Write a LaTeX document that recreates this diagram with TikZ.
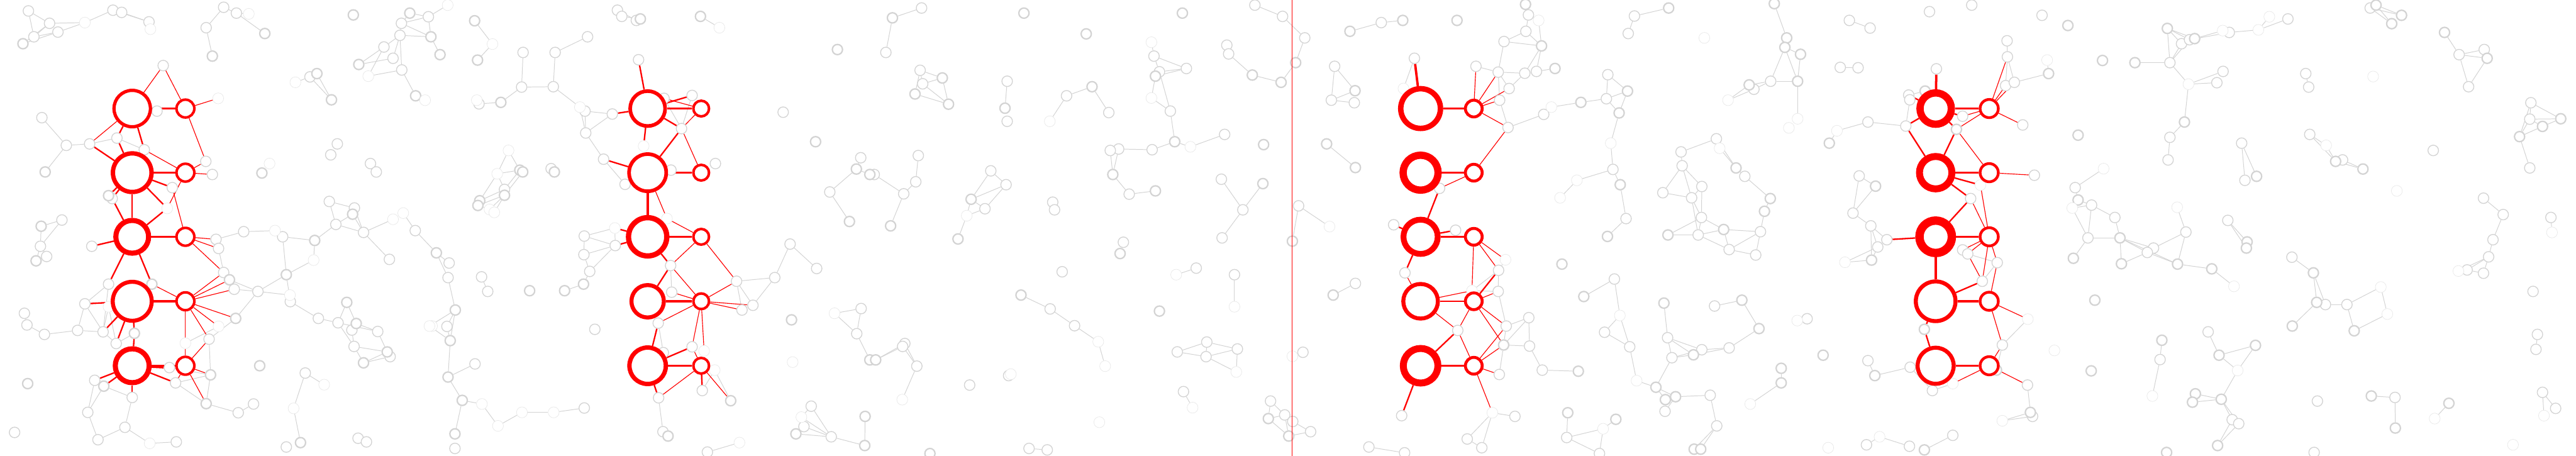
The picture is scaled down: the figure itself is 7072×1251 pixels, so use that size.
\documentclass[tikz,border=0pt]{standalone}
\pgfdeclarelayer{bg}
\pgfdeclarelayer{edges}
\pgfsetlayers{bg,edges,main}
\definecolor{gline}{HTML}{D3D3D3}
\definecolor{gfaint}{HTML}{E8E8E8}
\definecolor{rred}{HTML}{FF0000}
\tikzset{
 gN/.style={circle,draw=gline,fill=white,line width=0.23mm,minimum size=2.9mm,inner sep=0pt},
 gT/.style={circle,draw=gline,fill=white,line width=0.38mm,minimum size=2.8mm,inner sep=0pt},
 gF/.style={circle,draw=gfaint,fill=white,line width=0.12mm,minimum size=3.0mm,inner sep=0pt},
 ge/.style={draw=gline,line width=0.17mm},
 bigc/.style={circle,draw=rred,fill=white,inner sep=0pt},
 smallc/.style={circle,draw=rred,fill=white,inner sep=0pt},
 rt/.style={draw=rred,line width=0.65mm},
 rm/.style={draw=rred,line width=0.4mm},
 rs/.style={draw=rred,line width=0.2mm},
 vline/.style={draw=rred,line width=0.1mm}
}
\begin{document}
\begin{tikzpicture}[x=0.1mm,y=-0.1mm]
\useasboundingbox (0,0) rectangle (7072,1251);
\begin{pgfonlayer}{bg}\fill[white] (0,0) rectangle (7072,1251);\end{pgfonlayer}
% ---------- gray nodes: normal
\foreach \x/\y in {78/30,136/64,93/101,159/88,310/28,334/34,409/60,566/76,614/20,649/36,1102/64,1176/46,1098/97,1054/129,1103/192,851/211,448/180,431/305,115/323,182/399,246/395,321/379,396/411,565/443,583/479,473/515,308/545,170/604,111/676,128/704,252/676,593/657,600/682,669/636,776/650,614/748,643/794,708/800,797/828,874/874,574/931,298/780,233/834,67/860,74/892,122/918,213/907,283/911,319/943,465/1009,482/1051,654/1133,696/1109,260/1044,363/1091,241/1132,343/1173,269/1207,484/1213,40/1187,904/553,973/571,922/616,998/638,1140/633,1069/712,928/886,966/906,1037/910,972/951,1071/979,838/1024,786/1227,983/1203,1006/1213,926/395,908/425,1017/449,1033/472,1079/160,
1436/144,1432/239,1315/285,1385/520,1233/722,1230/762,1227/896,1304/999,1249/1231,1322/760,1339/800,
1753/164,1823/270,1900/262,1871/353,1681/313,1606/305,1608/365,1519/238,1524/144,1613/101,1657/437,1716/506,1842/467,1964/449,1513/463,1604/648,1689/674,1603/699,1619/745,1841/729,1844/802,2022/772,2067/838,2037/851,2127/762,2169/670,2242/737,1807/887,1633/904,1900/952,1821/968,1928/1072,1808/1092,1820/1185,1604/1120,1695/28,1707/45,1747/56,2150/308,2363/433,2278/527,2364/847,2352/916,2227/1115,2207/1171,2282/1199,1942/1241,
2530/22,2432/144,2526/193,2533/230,2765/223,2765/333,2928/263,3044/309,3168/154,3257/188,3183/197,3213/305,3163/411,3071/409,3048/413,3100/533,3362/369,3445/14,3521/45,3368/124,3373/148,3353/492,3412/576,3355/653,3284/736,3389/754,2521/427,2514/499,2481/532,2720/469,2762/507,2704/573,2890/555,2895/576,2916/746,2883/848,2950/894,3313/939,3232/966,3311/979,3397/958,3249/1075,3488/1101,3527/1139,2484/943,2478/951,2517/1005,2662/1057,2769/1031,2825/1231,2875/1235,3084/665,2400/479,
3883/160,4052/182,4129/114,4186/201,4143/243,4117/275,4140/350,4218/196,4189/86,4196/41,4238/314,3952/517,3826/617,3996/632,4114/742,4113/800,3857/749,4002/907,4135/895,4197/872,4199/950,4116/1028,4234/1016,3848/1141,4159/1143,4028/1205,4068/1229,3758/1227,3856/1243,3792/62,3582/104,3664/182,3655/275,3718/282,3565/565,3721/778,4301/1201,3577/967,3549/1157,3598/1185,4113/198,
4487/44,4470/92,4414/205,4410/271,4428/465,4464/600,4615/417,4618/455,4565/529,4644/543,4672/512,4671/597,4662/645,4747/685,4820/700,4833/636,4712/381,4790/484,4861/223,4815/245,4432/766,4405/912,4474/952,4578/927,4590/982,4747/955,4707/840,4571/1129,4695/1085,4713/1169,4391/1245,4672/960,
5316/189,5240/261,5243/274,5232/346,5388/319,5553/343,5511/156,5506/235,5530/226,5585/481,5410/545,5388/686,5402/697,5483/721,5442/772,5180/658,5155/678,5136/620,5087/585,5104/483,5128/335,5052/185,5101/186,5077/56,5134/77,5297/32,5413/14,5606/42,5510/112,5497/947,5305/1072,5244/1008,5128/990,5566/1057,5580/1143,5124/1221,5242/1225,5361/1195,5697/515,5742/563,5732/653,4961/875,
5957/172,5989/120,6011/109,6120/89,6281/52,6103/196,6086/227,5957/377,5952/439,6154/393,6163/495,6330/202,6338/239,6507/22,6341/369,6431/439,6680/413,6751/150,6820/136,6777/238,6948/282,6945/327,6945/461,6001/637,5806/597,5912/681,5895/693,6116/605,6292/706,6384/836,6443/836,6818/544,6872/589,6844/658,6832/705,6773/741,6818/750,7003/597,6954/800,6966/918,6962/959,5930/987,6062/911,6575/1091,6362/1101,6353/1242,6980/1077,7016/1121,6128/1152,6146/1163}
  \node[gN] (g\x y\y) at (\x,\y) {};
% ---------- gray nodes: thick
\foreach \x/\y in {63/120,727/92,583/154,970/41,1125/36,1183/101,985/177,1141/263,870/202,910/274,124/472,298/537,113/621,99/716,864/660,786/754,630/768,647/874,417/780,369/915,578/1029,566/1108,713/1004,285/1060,76/1053,968/588,952/830,978/888,998/996,1063/966,825/1215,719/475,1208/150,
1303/57,1311/165,1375/281,1427/467,1435/472,1385/536,1317/551,1312/564,1198/694,1250/851,1236/935,1230/1035,1269/1099,1249/1191,1454/798,
1522/472,1602/780,1550/798,1758/52,1923/45,2299/136,2239/389,2351/464,2388/479,2332/608,2173/878,2006/1100,1834/1197,2185/1191,2374/1223,2375/1143,2388/988,
2450/49,2512/258,2604/286,2587/214,2759/297,2811/36,2982/93,2998/238,3246/36,3172/209,3225/389,3055/479,3172/524,3438/206,3517/226,3469/397,3467/504,2445/620,2666/547,2630/656,3075/696,3183/854,2803/810,3482/1149,3538/1197,2404/988,2553/1245,
3557/172,4232/126,4269/188,4188/12,4340/281,3548/662,3642/395,3721/460,3660/810,4128/947,4333/1019,4304/1133,3706/86,3851/56,4000/56,3720/249,4348/814,4288/725,
4581/22,4468/250,4445/310,4448/507,4413/649,4579/645,4732/630,4766/461,4844/580,4860/545,4905/104,4900/130,4943/149,4935/223,4802/233,4568/832,4649/974,4782/824,4829/902,4546/1063,4572/1097,4600/1089,4651/1233,4669/1233,4436/1151,4890/1011,4890/1051,4871/10,
5285/250,5371/355,5149/511,5138/714,5022/393,5624/202,5677/70,5772/166,5705/371,5283/904,5481/1016,5147/1031,5005/975,5574/1132,5741/1018,5751/824,5692/709,5705/549,5283/1235,
5950/78,6025/106,5861/172,5997/335,6195/484,6523/14,6593/42,6566/65,6412/443,6487/464,6711/89,6828/160,7030/326,6980/347,6917/375,5820/653,5824/724,5978/725,6072/738,6169/664,6167/681,6351/749,6360/830,6463/908,6293/895,5935/934,6092/975,6192/948,6027/1081,6019/1104,6098/1096,6088/1223,5948/1242,6510/1087,6576/1175,6723/1107}
  \node[gT] (g\x y\y) at (\x,\y) {};
% ---------- gray nodes: faint
\foreach \x/\y in {413/80,233/62,683/38,1011/209,1167/275,811/226,599/270,459/572,755/633,861/714,796/810,600/896,509/942,298/842,411/1217,1079/602,1107/585,1186/895,890/1056,806/1121,740/449,1229/14,
1352/121,1309/275,1396/413,1365/477,1344/575,1357/583,1179/895,1323/1109,1367/1169,1433/1132,
1592/294,1767/401,1831/600,1688/626,1975/76,1933/963,1962/1016,1520/1132,2176/994,2291/860,2200/1145,2030/1215,
2882/333,3161/116,3161/269,3268/403,2654/592,3229/754,3389/842,3015/938,3034/1005,3394/1021,3274/1119,2477/1097,3018/1159,2775/1027,
3853/243,4224/56,4259/294,4133/713,4041/798,3650/622,4329/495,4283/543,3548/978,4097/1133,
4679/104,4422/393,4721/407,4744/275,4935/326,4911/351,4447/866,4493/1045,4401/1177,4805/1109,4934/880,
5437/508,5065/720,5043/359,5620/165,5567/876,5361/1053,5497/1155,5640/962,5689/571,5775/463,5160/1199,5019/1229,
6102/84,6200/82,6230/46,6008/231,6386/399,6515/210,6580/524,5977/569,6133/786,6536/788,6554/862,6749/744,7006/638,5909/1087,6143/1017,6684/1149,6984/1141,6899/1221}
  \node[gF] (g\x y\y) at (\x,\y) {};
% ---------- red groups
\node[bigc,minimum size=10.0mm,line width=0.9mm] (A1) at (363,298) {};
\node[bigc,minimum size=10.6mm,line width=1.2mm] (A2) at (363,474) {};
\node[bigc,minimum size=9.0mm,line width=1.4mm] (A3) at (363,650) {};
\node[bigc,minimum size=10.7mm,line width=1.1mm] (A4) at (363,827) {};
\node[bigc,minimum size=9.3mm,line width=1.4mm] (A5) at (363,1004) {};
\foreach \i/\y in {1/298,2/474,3/650,4/827,5/1004}
  \node[smallc,minimum size=4.9mm,line width=0.7mm] (a\i) at (509,\y) {};
\node[bigc,minimum size=9.6mm,line width=1.0mm] (B1) at (1778,298) {};
\node[bigc,minimum size=10.2mm,line width=1.0mm] (B2) at (1778,474) {};
\node[bigc,minimum size=10.5mm,line width=1.45mm] (B3) at (1778,650) {};
\node[bigc,minimum size=8.9mm,line width=1.1mm] (B4) at (1778,827) {};
\node[bigc,minimum size=10.0mm,line width=1.2mm] (B5) at (1778,1004) {};
\foreach \i/\y in {1/298,2/474,3/650,4/827,5/1004}
  \node[smallc,minimum size=4.3mm,line width=0.7mm] (b\i) at (1925,\y) {};
\node[bigc,minimum size=10.9mm,line width=1.5mm] (C1) at (3900,298) {};
\node[bigc,minimum size=9.6mm,line width=2.0mm] (C2) at (3900,474) {};
\node[bigc,minimum size=9.4mm,line width=1.6mm] (C3) at (3900,650) {};
\node[bigc,minimum size=9.5mm,line width=1.1mm] (C4) at (3900,827) {};
\node[bigc,minimum size=9.5mm,line width=1.9mm] (C5) at (3900,1004) {};
\foreach \i/\y in {1/298,2/474,3/650,4/827,5/1004}
  \node[smallc,minimum size=4.6mm,line width=0.8mm] (c\i) at (4046,\y) {};
\node[bigc,minimum size=8.6mm,line width=2.0mm] (D1) at (5314,298) {};
\node[bigc,minimum size=8.9mm,line width=1.9mm] (D2) at (5314,474) {};
\node[bigc,minimum size=8.9mm,line width=2.3mm] (D3) at (5314,650) {};
\node[bigc,minimum size=10.9mm,line width=1.1mm] (D4) at (5314,827) {};
\node[bigc,minimum size=9.9mm,line width=1.1mm] (D5) at (5314,1004) {};
\foreach \i/\y in {1/298,2/474,3/650,4/827,5/1004}
  \node[smallc,minimum size=5.0mm,line width=0.75mm] (d\i) at (5461,\y) {};
% ---------- separator
\coordinate (vt) at (3546,0);
\coordinate (vb) at (3546,1251);
\draw[vline] (vt) -- (vb);
% ---------- edges
\begin{pgfonlayer}{edges}
\foreach \a/\b/\c/\d in {78/30/93/101,78/30/136/64,136/64/93/101,93/101/159/88,63/120/136/64,63/120/159/88,159/88/233/62,136/64/233/62,233/62/310/28,310/28/409/60,334/34/409/60,
566/76/614/20,614/20/649/36,649/36/727/92,566/76/583/154,649/36/683/38,
1125/36/1102/64,1102/64/1176/46,1125/36/1176/46,1102/64/1183/101,1176/46/1183/101,1098/97/1183/101,1098/97/1102/64,1098/97/1054/129,1054/129/985/177,1054/129/1011/209,1098/97/1079/160,1079/160/985/177,1103/192/1011/209,1098/97/1103/192,1103/192/1141/263,1183/101/1208/150,1176/46/1229/14,
811/226/851/211,851/211/910/274,870/202/910/274,
115/323/182/399,182/399/246/395,182/399/124/472,246/395/321/379,321/379/396/411,
113/621/170/604,113/621/111/676,170/604/111/676,111/676/128/704,111/676/99/716,
593/657/669/636,669/636/755/633,776/650/864/660,864/660/922/616,864/660/861/714,776/650/786/754,861/714/786/754,786/754/708/800,786/754/797/828,708/800/630/768,708/800/643/794,708/800/647/874,708/800/796/810,797/828/874/874,600/682/614/748,647/874/574/931,574/931/578/1029,509/942/600/896,
298/780/233/834,233/834/213/907,233/834/283/911,298/780/283/911,298/842/283/911,298/842/319/943,369/915/319/943,283/911/319/943,67/860/74/892,74/892/122/918,122/918/213/907,213/907/283/911,
465/1009/578/1029,578/1029/482/1051,578/1029/566/1108,566/1108/654/1133,654/1133/696/1109,566/1108/482/1051,260/1044/241/1132,285/1060/363/1091,285/1060/241/1132,363/1091/343/1173,241/1132/269/1207,269/1207/343/1173,343/1173/411/1217,411/1217/484/1213,
904/553/973/571,904/553/922/616,922/616/968/588,922/616/998/638,973/571/998/638,968/588/998/638,998/638/1079/602,998/638/1069/712,1107/585/1140/633,1140/633/1198/694,
874/874/928/886,952/830/928/886,952/830/978/888,928/886/972/951,928/886/1037/910,978/888/1037/910,972/951/998/996,972/951/1063/966,998/996/1063/966,998/996/1071/979,1037/910/1063/966,838/1024/890/1056,838/1024/806/1121,806/1121/825/1215,966/906/972/951,
1303/57/1352/121,1352/121/1311/165,1436/144/1432/239,1432/239/1375/281,1375/281/1315/285,1315/285/1309/275,1432/239/1519/238,1396/413/1365/477,1365/477/1427/467,1365/477/1385/520,1396/413/1427/467,1365/477/1317/551,1385/520/1427/467,1385/536/1435/472,1317/551/1385/520,1312/564/1385/536,1312/564/1344/575,1344/575/1385/536,1357/583/1385/536,1198/694/1233/722,1198/694/1230/762,1230/762/1250/851,1250/851/1179/895,1179/895/1236/935,1250/851/1227/896,1250/851/1236/935,1227/896/1236/935,1236/935/1230/1035,1230/1035/1304/999,1230/1035/1269/1099,1269/1099/1323/1109,1323/1109/1367/1169,1367/1169/1433/1132,1269/1099/1249/1191,1322/760/1339/800,1433/1132/1520/1132,
1695/28/1747/56,1707/45/1758/52,1923/45/1975/76,1524/144/1613/101,1524/144/1519/238,1519/238/1592/294,1592/294/1606/305,1606/305/1681/313,1606/305/1608/365,1608/365/1681/313,1608/365/1657/437,1657/437/1716/506,1592/294/1608/365,1823/270/1871/353,1900/262/1871/353,1604/648/1688/626,1604/648/1689/674,1604/648/1603/699,1603/699/1689/674,1689/674/1619/745,1603/699/1619/745,1619/745/1602/780,1602/780/1550/798,1688/626/1689/674,1841/729/1844/802,2022/772/2067/838,2022/772/2127/762,2127/762/2169/670,2169/670/2242/737,2067/838/2127/762,2022/772/2037/851,1807/887/1821/968,1962/1016/1928/1072,1962/1016/2006/1100,1808/1092/1820/1185,1820/1185/1834/1197,1520/1132/1604/1120,2278/527/2351/464,2278/527/2332/608,2363/433/2351/464,2351/464/2388/479,2291/860/2364/847,2364/847/2352/916,2291/860/2352/916,2352/916/2388/988,2227/1115/2200/1145,2227/1115/2282/1199,2200/1145/2282/1199,2207/1171/2282/1199,2185/1191/2282/1199,2282/1199/2374/1223,2375/1143/2374/1223,2030/1215/1942/1241,
2450/49/2530/22,2450/49/2432/144,2526/193/2587/214,2526/193/2533/230,2526/193/2512/258,2533/230/2587/214,2533/230/2604/286,2512/258/2604/286,2587/214/2604/286,2765/223/2759/297,2928/263/2998/238,2928/263/2882/333,2998/238/3044/309,3161/116/3168/154,3168/154/3257/188,3168/154/3183/197,3183/197/3257/188,3172/209/3257/188,3172/209/3161/269,3183/197/3213/305,3161/269/3213/305,3213/305/3225/389,3225/389/3163/411,3225/389/3268/403,3268/403/3362/369,3163/411/3071/409,3071/409/3055/479,3048/413/3055/479,3055/479/3100/533,3100/533/3172/524,3445/14/3521/45,3373/148/3438/206,3438/206/3517/226,3517/226/3557/172,2400/479/2481/532,2521/427/2514/499,2514/499/2481/532,2481/532/2445/620,2720/469/2762/507,2720/469/2666/547,2666/547/2762/507,2762/507/2704/573,2666/547/2704/573,2666/547/2654/592,2654/592/2704/573,2654/592/2630/656,3353/492/3412/576,3467/504/3412/576,3412/576/3355/653,3229/754/3284/736,3389/754/3389/842,2803/810/2883/848,2883/848/2950/894,2950/894/3015/938,3015/938/3034/1005,3232/966/3313/939,3232/966/3311/979,3313/939/3397/958,3311/979/3397/958,3313/939/3311/979,3397/958/3394/1021,3311/979/3394/1021,3249/1075/3274/1119,3488/1101/3527/1139,3482/1149/3527/1139,3488/1101/3482/1149,3482/1149/3538/1197,3527/1139/3538/1197,3527/1139/3549/1157,2484/943/2404/988,2478/951/2404/988,2484/943/2517/1005,2478/951/2517/1005,2517/1005/2477/1097,2825/1231/2875/1235,
3521/45/3582/104,3582/104/3557/172,3706/86/3792/62,3792/62/3851/56,3664/182/3720/249,3664/182/3655/275,3655/275/3720/249,3655/275/3718/282,3642/395/3721/460,3565/565/3650/622,3565/565/3548/662,3721/778/3660/810,4052/182/4113/198,4113/198/4129/114,4129/114/4189/86,4129/114/4232/126,4113/198/4186/201,4113/198/4143/243,4113/198/4117/275,4143/243/4186/201,4186/201/4218/196,4218/196/4269/188,4186/201/4232/126,4218/196/4232/126,4232/126/4224/56,4189/86/4196/41,4196/41/4188/12,4196/41/4224/56,4189/86/4232/126,4117/275/4140/350,4140/350/4238/314,4259/294/4340/281,4340/281/4410/271,3883/160/3853/243,4133/713/4114/742,4114/742/4113/800,4041/798/4114/742,4041/798/4113/800,4113/800/4135/895,4135/895/4197/872,4135/895/4128/947,4197/872/4128/947,4197/872/4199/950,4128/947/4199/950,4199/950/4234/1016,4234/1016/4333/1019,4128/947/4116/1028,4097/1133/4159/1143,4097/1133/4028/1205,4028/1205/4068/1229,4097/1133/4068/1229,4329/495/4283/543,4304/1133/4301/1201,4301/1201/4391/1245,3538/1197/3598/1185,3549/1157/3598/1185,3758/1227/3856/1243,
4487/44/4581/22,4487/44/4470/92,4414/205/4468/250,4414/205/4410/271,4410/271/4468/250,4410/271/4445/310,4468/250/4445/310,4445/310/4422/393,4422/393/4428/465,4428/465/4448/507,4448/507/4464/600,4464/600/4413/649,4329/495/4428/465,4615/417/4712/381,4712/381/4721/407,4721/407/4766/461,4712/381/4766/461,4615/417/4618/455,4618/455/4565/529,4618/455/4644/543,4618/455/4672/512,4565/529/4644/543,4644/543/4672/512,4644/543/4671/597,4644/543/4662/645,4672/512/4671/597,4671/597/4662/645,4579/645/4671/597,4579/645/4662/645,4662/645/4732/630,4671/597/4732/630,4732/630/4747/685,4662/645/4747/685,4747/685/4820/700,4747/685/4833/636,4732/630/4833/636,4833/636/4820/700,4833/636/4844/580,4844/580/4860/545,4790/484/4860/545,4766/461/4790/484,
4905/104/4871/10,4900/130/4905/104,4900/130/4943/149,4900/130/4861/223,4900/130/4935/223,4943/149/4935/223,4861/223/4935/223,4861/223/4802/233,4861/223/4815/245,4815/245/4744/275,4802/233/4744/275,4935/223/4935/326,
4432/766/4348/814,4432/766/4447/866,4447/866/4405/912,4405/912/4474/952,4447/866/4474/952,4474/952/4493/1045,4493/1045/4546/1063,4568/832/4578/927,4578/927/4590/982,4578/927/4649/974,4578/927/4672/960,4590/982/4649/974,4590/982/4672/960,4672/960/4747/955,4649/974/4747/955,4747/955/4829/902,4829/902/4782/824,4782/824/4707/840,4590/982/4546/1063,4546/1063/4572/1097,4546/1063/4600/1089,4572/1097/4600/1089,4600/1089/4571/1129,4600/1089/4695/1085,4695/1085/4713/1169,4713/1169/4651/1233,4713/1169/4669/1233,4436/1151/4401/1177,4401/1177/4391/1245,4301/1201/4401/1177,4890/1011/4890/1051,4890/1051/4805/1109,
5077/56/5134/77,5052/185/5101/186,5104/483/5149/511,5104/483/5087/585,5149/511/5087/585,5087/585/5136/620,5136/620/5180/658,5136/620/5155/678,5136/620/5138/714,5155/678/5138/714,5065/720/5138/714,5065/720/5155/678,5022/393/5043/359,5043/359/5128/335,5128/335/5232/346,5240/261/5243/274,5243/274/5232/346,5240/261/5285/250,5510/112/5511/156,5511/156/5506/235,5511/156/5530/226,5530/226/5624/202,5624/202/5620/165,5775/463/5697/515,5697/515/5705/549,5705/549/5742/563,5689/571/5742/563,5742/563/5732/653,5689/571/5732/653,5732/653/5692/709,5388/686/5402/697,5402/697/5483/721,5483/721/5442/772,5567/876/5497/947,5497/947/5481/1016,5244/1008/5147/1031,5147/1031/5128/990,5244/1008/5305/1072,5305/1072/5361/1053,5566/1057/5574/1132,5574/1132/5497/1155,5580/1143/5497/1155,5160/1199/5124/1221,5160/1199/5242/1225,5283/1235/5361/1195,5732/653/5820/653,5742/563/5806/597,
5861/172/5957/172,5950/78/5957/172,5950/78/5989/120,5950/78/6011/109,5950/78/6025/106,5957/172/5989/120,5957/172/6011/109,6025/106/6102/84,6011/109/6120/89,6120/89/6200/82,6200/82/6230/46,6200/82/6281/52,5957/172/6008/231,6008/231/6103/196,6008/231/6086/227,6008/231/5997/335,5997/335/5957/377,5957/377/5952/439,6154/393/6163/495,6154/393/6195/484,6330/202/6338/239,6523/14/6593/42,6507/22/6593/42,6507/22/6566/65,6523/14/6566/65,6341/369/6386/399,6341/369/6412/443,6386/399/6412/443,6412/443/6431/439,6431/439/6487/464,6412/443/6487/464,6711/89/6751/150,6751/150/6820/136,6751/150/6828/160,6751/150/6777/238,6828/160/6777/238,6948/282/6945/327,6948/282/7030/326,6945/327/7030/326,6945/327/6980/347,6980/347/7030/326,6945/327/6917/375,6948/282/6917/375,6917/375/6980/347,6917/375/6945/461,5977/569/6001/637,6001/637/5912/681,6001/637/5978/725,5806/597/5820/653,5820/653/5824/724,5820/653/5912/681,5820/653/5895/693,5820/653/5978/725,5895/693/5978/725,5824/724/5895/693,5978/725/6072/738,6072/738/6133/786,6116/605/6169/664,6116/605/6167/681,6292/706/6351/749,6351/749/6360/830,6351/749/6384/836,6384/836/6443/836,6360/830/6293/895,6443/836/6536/788,6536/788/6554/862,6554/862/6463/908,6443/836/6463/908,6818/544/6872/589,6872/589/6844/658,6844/658/6832/705,6832/705/6773/741,6832/705/6749/744,6773/741/6818/750,6832/705/6818/750,7003/597/7006/638,6966/918/6962/959,5935/934/5930/987,5930/987/5909/1087,6062/911/6092/975,6092/975/6192/948,6092/975/6143/1017,6192/948/6143/1017,6143/1017/6098/1096,6098/1096/6027/1081,6098/1096/6019/1104,6098/1096/6128/1152,6098/1096/6146/1163,6128/1152/6088/1223,6146/1163/6088/1223,6510/1087/6575/1091,6575/1091/6576/1175,6723/1107/6684/1149,6980/1077/6984/1141,6980/1077/7016/1121}
  \draw[ge] (g\a y\b) -- (g\c y\d);
% red edges
\foreach \p/\q in {A1/a1,A2/a2,A3/a3,A4/a4,A5/a5,B1/b1,B2/b2,B3/b3,B4/b4,B5/b5,C1/c1,C2/c2,C3/c3,C5/c5,D1/d1,D2/d2,D3/d3,D4/d4,D3/D4,B2/B3,g3883y160/C1,g5316y189/D1,A5/g465y1009}
  \draw[rt] (\p) -- (\q);
\foreach \p/\q in {A1/g321y379,A1/g396y411,g246y395/A2,g321y379/A2,A2/g473y515,A2/g298y537,A2/g308y545,A2/g459y572,A2/A3,g308y545/A3,g459y572/A3,A3/g252y676,A3/g298y780,A3/g417y780,A4/g233y834,A4/g283y911,A4/g319y943,A4/g369y915,A4/g298y842,g369y915/A5,A5/g482y1051,A5/g260y1044,A5/g285y1060,A5/g363y1091,
g1753y164/B1,B1/g1681y313,B1/g1900y262,B1/g1871y353,B1/g1767y401,g1871y353/B2,g1657y437/B2,g1688y626/B3,g1689y674/B3,B3/g1841y729,g1841y729/B4,g1807y887/B5,g1900y952/B5,B5/g1808y1092,b5/g1928y1072,
g3952y517/C3,g3826y617/C3,g3996y632/C3,C3/g3857y749,g4114y742/c4,C4/c4,g4002y907/C5,C5/g3848y1141,
g5240y261/D1,g5232y346/D1,D1/g5388y319,D1/g5371y355,g5232y346/D2,g5371y355/D2,D2/g5437y508,D2/g5410y545,g5410y545/D3,D3/g5180y658,g5442y772/D4,D4/g5283y904,g5283y904/D5,D5/d5}
  \draw[rm] (\p) -- (\q);
\foreach \p/\q in {A1/g448y180,g448y180/a1,a1/g599y270,a1/g565y443,A1/g246y395,g396y411/a2,a2/g565y443,a2/g583y479,g473y515/a3,a2/g459y572,a3/g593y657,a3/g600y682,a3/g614y748,g417y780/a4,a4/g614y748,a4/g630y768,a4/g643y794,a4/g647y874,a4/g600y896,a4/g574y931,a4/g509y942,g509y942/a5,g574y931/a5,a5/g578y1029,a5/g566y1108,a5/g482y1051,
g1823y270/b1,g1871y353/b1,g1871y353/b2,B2/g1831y600,g1831y600/b3,b3/g1841y729,b3/g2022y772,g1841y729/b4,g1844y802/b4,b4/g2022y772,b4/g2067y838,b4/g2037y851,b4/g1807y887,b4/g1900y952,b4/g1933y963,b5/g1900y952,b5/g2006y1100,b5/g1808y1092,
c1/g4052y182,c1/g4113y198,c1/g4143y243,c1/g4117y275,c1/g4140y350,g4140y350/c2,c2/g3952y517,c3/g4133y713,c3/g4114y742,c3/g4041y798,g3857y749/C4,g4113y800/c4,C4/g4041y798,C4/g4002y907,g4002y907/c4,g4002y907/c5,c4/g4135y895,c4/g4128y947,c5/g4135y895,c5/g4128y947,c5/g4116y1028,c5/g4097y1133,
g5388y319/d1,g5371y355/d1,d1/g5511y156,d1/g5506y235,d1/g5530y226,d1/g5553y343,g5371y355/d2,d2/g5585y481,g5437y508/d3,g5410y545/d3,d3/g5388y686,d3/g5402y697,g5402y697/g5442y772,d3/g5442y772,d3/g5483y721,g5483y721/d4,d4/g5567y876,d4/g5497y947,g5497y947/d5,d5/g5361y1053,d5/g5566y1057}
  \draw[rs] (\p) -- (\q);
\end{pgfonlayer}
\end{tikzpicture}
\end{document}
